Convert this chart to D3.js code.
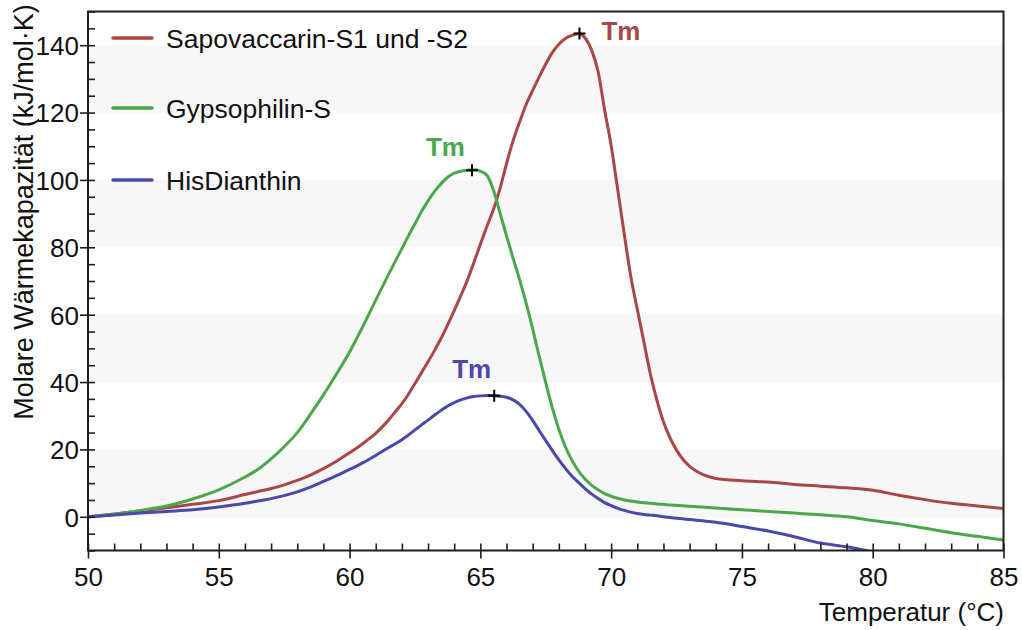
<!DOCTYPE html>
<html>
<head>
<meta charset="utf-8">
<script src="https://cdn.jsdelivr.net/npm/d3@7"></script>
<style>
  body { margin: 0; background: #fff; }
  svg { display: block; }
  text { font-family: "Liberation Sans", Arial, Helvetica, sans-serif; }
</style>
</head>
<body>
<svg id="chart" width="1022" height="630"></svg>
<script>
// Temperature grid (°C): coarse on the flanks, fine through the melting transitions
const temperature = [
  50, 51, 52, 53, 54, 55, 56, 56.5, 57, 57.5, 58, 58.5, 59, 59.5,
  60, 60.25, 60.5, 60.75, 61, 61.25, 61.5, 61.75, 62, 62.25, 62.5, 62.75,
  63, 63.25, 63.5, 63.75, 64, 64.25, 64.5, 64.75, 65, 65.25, 65.5, 65.75,
  66, 66.25, 66.5, 66.75, 67, 67.25, 67.5, 67.75, 68, 68.25, 68.5, 68.75,
  69, 69.25, 69.5, 69.75, 70, 70.25, 70.5, 70.75, 71, 71.25, 71.5, 71.75,
  72, 72.25, 72.5, 72.75, 73, 73.25, 73.5, 73.75, 74,
  75, 76, 77, 78, 79, 80, 81, 82, 83, 84, 85
];

// Molar heat capacity (kJ/mol·K) per protein
const sapovaccarinCp = [
  0, 0.8, 1.7, 2.7, 3.7, 4.8, 6.6, 7.5, 8.4, 9.5, 10.8, 12.4, 14.3, 16.5,
  19.0, 20.3, 21.7, 23.2, 24.8, 26.7, 28.8, 31.2, 33.6, 36.4, 39.6, 42.8,
  46.0, 49.4, 53.0, 57.0, 61.2, 65.6, 70.2, 75.4, 80.9, 86.2, 91.2, 97.4,
  104.8, 111.6, 117.2, 122.4, 126.6, 130.6, 134.4, 137.8, 140.3, 142.0, 142.9, 143.4,
  142.2, 138.6, 132.2, 120.8, 110.2, 97.2, 84.0, 71.4, 61.6, 52.0, 42.4, 34.6,
  28.2, 23.4, 19.8, 17.0, 15.0, 13.6, 12.6, 11.9, 11.4,
  10.7, 10.3, 9.6, 9.1, 8.6, 7.9, 6.4, 5.1, 4.0, 3.2, 2.5
];

const gypsophilinCp = [
  0, 0.7, 1.9, 3.2, 5.3, 8.0, 11.8, 14.1, 17.2, 20.8, 25.0, 30.4, 36.2, 42.4,
  48.9, 52.6, 56.4, 60.3, 64.3, 68.2, 72.1, 75.9, 79.6, 83.4, 87.0, 90.6,
  93.8, 96.6, 98.9, 100.8, 102.0, 102.6, 102.9, 103.0, 102.6, 101.4, 97.0, 90.2,
  83.4, 76.8, 70.4, 63.4, 55.8, 47.6, 39.8, 32.4, 26.0, 20.8, 16.8, 13.6,
  11.2, 9.4, 8.0, 6.9, 6.1, 5.5, 5.0, 4.7, 4.4, 4.2, 4.0, 3.8,
  3.7, 3.5, 3.4, 3.3, 3.1, 3.0, 2.9, 2.8, 2.6,
  2.1, 1.6, 1.1, 0.6, 0.0, -1.1, -2.1, -3.4, -4.7, -5.8, -6.9
];

const hisDianthinCp = [
  0, 0.5, 1.1, 1.6, 2.1, 2.9, 4.0, 4.7, 5.4, 6.3, 7.4, 8.8, 10.5, 12.2,
  14.1, 15.0, 16.0, 17.1, 18.2, 19.4, 20.6, 21.7, 22.9, 24.3, 25.8, 27.3,
  28.7, 30.2, 31.6, 32.9, 33.9, 34.7, 35.3, 35.7, 35.9, 36.0, 36.0, 35.8,
  35.5, 34.7, 33.4, 31.3, 28.6, 25.6, 22.6, 19.7, 16.9, 14.4, 12.1, 10.2,
  8.4, 6.8, 5.4, 4.2, 3.3, 2.5, 1.9, 1.4, 1.0, 0.7, 0.5, 0.3,
  0.0, -0.2, -0.4, -0.6, -0.8, -1.0, -1.2, -1.4, -1.6,
  -2.9, -4.2, -5.9, -7.8, -8.9, -10.4, null, null, null, null, null
];

const seriesNames = ["Sapovaccarin-S1 und -S2", "Gypsophilin-S", "HisDianthin"];
const seriesColors = ["#ab4646", "#4aa84a", "#4949a9"];

// Melting temperatures (Tm) marked on each curve
const tmTemperature = [68.79, 64.68, 65.53];
const tmCp = [143.5, 102.9, 35.9];

// Axis ticks
const xMajorTicks = [50, 55, 60, 65, 70, 75, 80, 85];
const yMajorTicks = [0, 20, 40, 60, 80, 100, 120, 140];
const stripeBands = [[0, 20], [40, 60], [80, 100], [120, 140]];

const xTitle = "Temperatur (°C)";
const yTitle = "Molare Wärmekapazität (kJ/mol·K)";

// ---- layout ----
const svg = d3.select("#chart");
const plot = { left: 88, right: 1003.5, top: 11.5, bottom: 550.5 };
const axisColor = "#1e1e1e";
const fontSize = 26;

const x = d3.scaleLinear().domain([50, 85]).range([plot.left, plot.right]);
const y = d3.scaleLinear().domain([-10, 150]).range([plot.bottom, plot.top]);

const xMinorTicks = d3.range(50, 86, 1).filter(v => v % 5 !== 0);
const yMinorTicks = d3.range(-10, 151, 5).filter(v => v % 20 !== 0);

svg.append("defs").append("clipPath").attr("id", "plot-clip")
  .append("rect")
  .attr("x", plot.left).attr("y", plot.top)
  .attr("width", plot.right - plot.left).attr("height", plot.bottom - plot.top);

// alternating light bands
svg.append("g").selectAll("rect").data(stripeBands).join("rect")
  .attr("x", plot.left)
  .attr("width", plot.right - plot.left)
  .attr("y", d => y(d[1]))
  .attr("height", d => y(d[0]) - y(d[1]))
  .attr("fill", "#f7f7f7");

// curves
const rows = temperature.map((t, i) => ({
  t, v: [sapovaccarinCp[i], gypsophilinCp[i], hisDianthinCp[i]]
}));

const curves = svg.append("g").attr("clip-path", "url(#plot-clip)");
seriesNames.forEach((name, s) => {
  const line = d3.line()
    .defined(d => d.v[s] !== null)
    .x(d => x(d.t))
    .y(d => y(d.v[s]))
    .curve(d3.curveMonotoneX);
  curves.append("path")
    .datum(rows)
    .attr("fill", "none")
    .attr("stroke", seriesColors[s])
    .attr("stroke-width", 3)
    .attr("stroke-linejoin", "round")
    .attr("d", line);
});

// frame
svg.append("rect")
  .attr("x", plot.left).attr("y", plot.top)
  .attr("width", plot.right - plot.left).attr("height", plot.bottom - plot.top)
  .attr("fill", "none").attr("stroke", axisColor).attr("stroke-width", 2);

// x axis: major ticks crossing the axis, minor ticks pointing inward
const gx = svg.append("g").attr("transform", `translate(0,${plot.bottom})`)
  .call(d3.axisBottom(x).tickValues(xMajorTicks).tickSize(8).tickFormat(d3.format("d")));
gx.select(".domain").remove();
gx.selectAll(".tick line").attr("y1", -7).attr("stroke", axisColor).attr("stroke-width", 1.6);
gx.selectAll(".tick text")
  .attr("y", 35).attr("dy", 0)
  .attr("font-size", fontSize).attr("fill", "#111")
  .attr("font-family", '"Liberation Sans", Arial, sans-serif');

const gxm = svg.append("g").attr("transform", `translate(0,${plot.bottom})`)
  .call(d3.axisTop(x).tickValues(xMinorTicks).tickSize(7).tickFormat(""));
gxm.select(".domain").remove();
gxm.selectAll(".tick line").attr("stroke", axisColor).attr("stroke-width", 1.6);

// y axis
const gy = svg.append("g").attr("transform", `translate(${plot.left},0)`)
  .call(d3.axisLeft(y).tickValues(yMajorTicks).tickSize(8).tickPadding(1));
gy.select(".domain").remove();
gy.selectAll(".tick line").attr("x1", 7).attr("stroke", axisColor).attr("stroke-width", 1.6);
gy.selectAll(".tick text")
  .attr("dy", "0.36em")
  .attr("font-size", fontSize).attr("fill", "#111")
  .attr("font-family", '"Liberation Sans", Arial, sans-serif');

const gym = svg.append("g").attr("transform", `translate(${plot.left},0)`)
  .call(d3.axisRight(y).tickValues(yMinorTicks).tickSize(7).tickFormat(""));
gym.select(".domain").remove();
gym.selectAll(".tick line").attr("stroke", axisColor).attr("stroke-width", 1.6);

// axis titles
svg.append("text")
  .attr("x", 1004).attr("y", 621)
  .attr("text-anchor", "end")
  .attr("font-size", fontSize).attr("fill", "#111")
  .text(xTitle);

svg.append("text")
  .attr("transform", "translate(33,212) rotate(-90)")
  .attr("text-anchor", "middle")
  .attr("font-size", 27).attr("fill", "#111")
  .text(yTitle);

// legend
const legend = svg.append("g");
const legendY = [38, 108, 180];
seriesNames.forEach((name, s) => {
  legend.append("line")
    .attr("x1", 113).attr("x2", 152)
    .attr("y1", legendY[s]).attr("y2", legendY[s])
    .attr("stroke", seriesColors[s]).attr("stroke-width", 3.5)
    .attr("stroke-linecap", "round");
  legend.append("text")
    .attr("x", 166).attr("y", legendY[s] + 9.5)
    .attr("font-size", 26.5).attr("fill", "#111")
    .text(name);
});

// Tm markers and labels
const tmLabelOffset = [[22, 6.5], [-46, -14.5], [-42, -17.5]];
seriesNames.forEach((name, s) => {
  const cx = x(tmTemperature[s]), cy = y(tmCp[s]);
  svg.append("path")
    .attr("d", `M${cx - 6},${cy}H${cx + 6}M${cx},${cy - 6}V${cy + 6}`)
    .attr("stroke", "#000").attr("stroke-width", 2);
  svg.append("text")
    .attr("x", cx + tmLabelOffset[s][0]).attr("y", cy + tmLabelOffset[s][1])
    .attr("font-size", fontSize).attr("font-weight", "bold")
    .attr("fill", seriesColors[s])
    .text("Tm");
});
</script>
</body>
</html>
